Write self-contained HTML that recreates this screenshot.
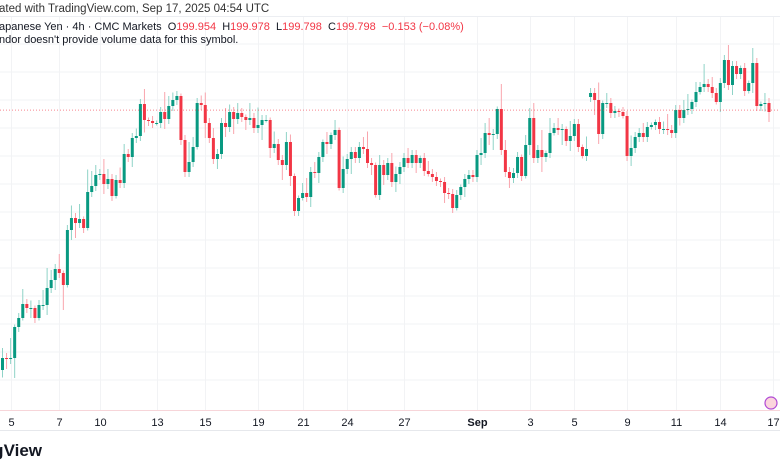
<!DOCTYPE html>
<html><head><meta charset="utf-8">
<style>
html,body{margin:0;padding:0;background:#fff;width:780px;height:470px;overflow:hidden;font-family:"Liberation Sans",sans-serif;}
.t{position:absolute;white-space:nowrap;font-size:11px;color:#131722;}
.r{color:#f23645;}
</style></head><body>
<div style="position:relative;width:780px;height:470px;overflow:hidden;">
<svg id="chart" width="780" height="470" style="position:absolute;left:0;top:0"></svg>
<div class="t" style="left:-1px;top:3px;font-size:11.5px;color:#333">ated with TradingView.com, Sep 17, 2025 04:54 UTC</div>
<div class="t" style="left:-1px;top:21px;">apanese Yen · 4h · CMC Markets&nbsp;&nbsp;O<span class="r">199.954</span>&nbsp;&nbsp;H<span class="r">199.978</span>&nbsp;&nbsp;L<span class="r">199.798</span>&nbsp;&nbsp;C<span class="r">199.798</span>&nbsp;&nbsp;<span class="r">−0.153 (−0.08%)</span></div>
<div class="t" style="left:-1px;top:34px;">ndor doesn't provide volume data for this symbol.</div>
<div class="t" style="right:738px;top:441px;font-size:17px;font-weight:bold;color:#131722;">TradingView</div>
</div>
<script>
const closes=[194.84,194.82,194.84,195.46,195.64,195.92,195.84,195.84,195.64,195.90,195.90,196.24,196.40,196.62,196.54,196.30,197.40,197.64,197.54,197.62,197.44,198.16,198.28,198.50,198.52,198.32,198.42,198.08,198.40,198.34,198.92,198.86,199.24,199.28,199.92,199.60,199.58,199.54,199.54,199.76,199.62,199.88,200.00,200.08,199.20,198.56,198.76,199.06,199.94,199.90,199.54,199.24,198.82,198.92,199.54,199.46,199.76,199.62,199.74,199.66,199.60,199.64,199.44,
199.50,199.60,199.60,199.04,199.12,198.80,198.70,199.16,198.48,197.78,198.04,198.14,198.06,198.56,198.54,198.86,199.16,199.12,199.30,199.40,198.24,198.62,198.82,198.96,198.84,199.06,199.02,198.74,198.70,198.10,198.70,198.50,198.74,198.36,198.52,198.66,198.84,198.74,198.90,198.74,198.84,198.58,198.52,198.46,198.38,198.36,198.14,198.12,197.84,198.10,198.26,198.42,198.50,198.46,198.90,198.94,199.34,199.30,199.32,199.82,199.00,198.56,198.44,
198.54,198.86,198.48,199.10,199.64,198.84,199.00,198.86,198.94,199.34,199.44,199.40,199.42,199.18,199.28,199.52,199.06,198.88,199.02,200.14,200.00,199.32,199.94,199.94,199.74,199.78,199.76,199.68,198.88,199.04,199.26,199.34,199.26,199.46,199.50,199.56,199.42,199.42,199.40,199.34,199.80,199.64,199.80,199.82,199.96,200.16,200.26,200.32,200.26,200.14,199.96,200.34,200.80,200.30,200.68,200.52,200.64,200.18,200.34,200.74,199.88,199.92,199.94,199.76];
const firstOpen=194.60;
const gapIndex=[145];
const gapOpen=[200.06];
const wickUp=[0.2,0.1,0.4,0.05,0.1,0.3,0.1,0.15,0.05,0.1,0.3,0.4,0.2,0.1,0.3,0.05,0.1,0.25,0.1,0.3,0.05,0.45,0.3,0.2,0.1,0.3,0.2,0.1,0.1,0.25,0.2,0.1,0.1,0.15,0.1,0.3,0.05,0.1,0.05,0.1,0.4,0.2,0.15,0.1,0.05,0.1,0.4,0.2,0.1,0.15,0.25,0.1,0.2,0.1,0.1,0.3,0.15,0.1,0.2,0.1,0.05,0.3,0.1,0.35,0.1,0.1,0.05,0.25,0.1,0.1,0.2,0.15,0.05,0.05,0.2,0.3,0.1,0.2,0.1,0.05,0.2,0.05,0.2,0.05,0.25,0.1,0.1,0.1,0.1,0.2,0.35,0.1,0.05,0.2,0.1,0.1,0.2,0.15,0.1,0.1,0.2,0.1,0.1,0.05,0.1,0.2,0.1,0.1,0.05,0.1,0.1,0.1,0.1,0.05,0.1,0.1,0.1,0.1,0.3,0.2,0.3,0.1,0.05,0.5,0.2,0.1,0.1,0.1,0.05,0.2,0.2,0.3,0.1,0.4,0.05,0.3,0.1,0.2,0.1,0.05,0.3,0.1,0.1,0.05,0.25,0.1,0.1,0.35,0.05,0.2,0.1,0.1,0.05,0.1,0.1,0.25,0.1,0.1,0.2,0.1,0.05,0.05,0.1,0.15,0.3,0.1,0.1,0.1,0.2,0.3,0.05,0.2,0.1,0.4,0.1,0.2,0.1,0.1,0.1,0.3,0.1,0.1,0.05,0.1,0.05,0.3,0.1,0.05,0.2,0.1];
const wickDn=[0.15,0.2,0.1,0.4,0.1,0.05,0.1,0.2,0.1,0.05,0.1,0.2,0.1,0.2,0.1,0.5,0.05,0.2,0.3,0.1,0.1,0.05,0.1,0.1,0.1,0.2,0.1,0.1,0.05,0.1,0.1,0.1,0.2,0.1,0.1,0.25,0.1,0.1,0.05,0.1,0.2,0.1,0.1,0.1,0.1,0.1,0.1,0.1,0.05,0.1,0.3,0.1,0.1,0.2,0.1,0.2,0.1,0.3,0.1,0.1,0.2,0.1,0.1,0.1,0.3,0.05,0.2,0.1,0.1,0.3,0.1,0.2,0.1,0.1,0.05,0.1,0.2,0.1,0.2,0.1,0.2,0.1,0.1,0.05,0.1,0.1,0.3,0.1,0.1,0.1,0.1,0.2,0.05,0.1,0.2,0.1,0.1,0.2,0.2,0.1,0.1,0.1,0.2,0.1,0.1,0.05,0.1,0.1,0.1,0.2,0.1,0.1,0.05,0.1,0.2,0.1,0.1,0.1,0.2,0.1,0.2,0.3,0.1,0.1,0.1,0.2,0.1,0.1,0.1,0.05,0.2,0.1,0.1,0.3,0.1,0.1,0.05,0.1,0.3,0.1,0.2,0.1,0.1,0.05,0.1,0.1,0.3,0.2,0.1,0.1,0.1,0.1,0.1,0.05,0.1,0.2,0.1,0.1,0.1,0.1,0.05,0.1,0.1,0.1,0.1,0.1,0.1,0.15,0.1,0.1,0.1,0.1,0.05,0.1,0.1,0.1,0.05,0.2,0.1,0.1,0.2,0.1,0.1,0.1,0.05,0.2,0.1,0.1];
const dateLabels=["5","7","10","13","15","19","21","24","27","Sep","3","5","9","11","14","17"];
const dateIndex=[2,14,24,38,50,63,74,85,99,117,130,141,154,166,177,190];
const lastPrice=199.798;

const svg=document.getElementById('chart');
const NS='http://www.w3.org/2000/svg';
const X0=2.5,X1=769,N=closes.length;
function xs(i){return X0+(X1-X0)*i/(N-1);}
function ys(p){return (202-p)*50;}
function mk(tag,attrs){const e=document.createElementNS(NS,tag);for(const k in attrs)e.setAttribute(k,attrs[k]);svg.appendChild(e);return e;}

for(let y=44;y<=381;y+=28){
  const g=mk('line',{x1:0,x2:780,y1:y,y2:y,stroke:'#f2f3f5','stroke-width':1});
  
  
}
const sep=mk('line',{x1:0,x2:780,y1:16.5,y2:16.5,stroke:'#eceef2'});


dateLabels.forEach((lab,k)=>{
  const x=Math.round(xs(dateIndex[k]))+0.5;
  const v=mk('line',{x1:x,x2:x,y1:17,y2:410,stroke:'#f2f3f5'});
  
  
  const t=mk('text',{x:x,y:426,'text-anchor':'middle','font-size':11,fill:'#131722','font-family':'Liberation Sans, sans-serif','font-weight':lab==='Sep'?'bold':'normal'});
  t.textContent=lab;
  
  
});
const ax=mk('line',{x1:0,x2:780,y1:410.5,y2:410.5,stroke:'#f7d5d9'});


const ax2=mk('line',{x1:0,x2:780,y1:430.5,y2:430.5,stroke:'#e6e8ec'});



let prev=firstOpen;
for(let i=0;i<N;i++){
  let o=prev;const gi=gapIndex.indexOf(i);if(gi>=0)o=gapOpen[gi];
  const c=closes[i];
  const hi=Math.max(o,c)+wickUp[i%wickUp.length];
  const lo=Math.min(o,c)-wickDn[i%wickDn.length];
  const up=c>=o;
  const x=xs(i);
  const w=mk('line',{x1:x,x2:x,y1:ys(hi),y2:ys(lo),stroke:up?'#8fd3c7':'#f9a5ad','stroke-width':1});
  
  
  const top=ys(Math.max(o,c)),bot=ys(Math.min(o,c));
  const b=mk('rect',{x:x-1.5,y:top,width:3,height:Math.max(1,bot-top),fill:up?'#089981':'#f23645'});
  
  
  prev=c;
}
const pl=mk('line',{x1:0,x2:780,y1:ys(lastPrice),y2:ys(lastPrice),stroke:'#f23645','stroke-width':1,'stroke-dasharray':'1 2',opacity:0.6});


const ic=mk('circle',{cx:771,cy:403,r:6,fill:'#fbd5dc',stroke:'#b04ad6','stroke-width':1.2});


</script>
</body></html>
